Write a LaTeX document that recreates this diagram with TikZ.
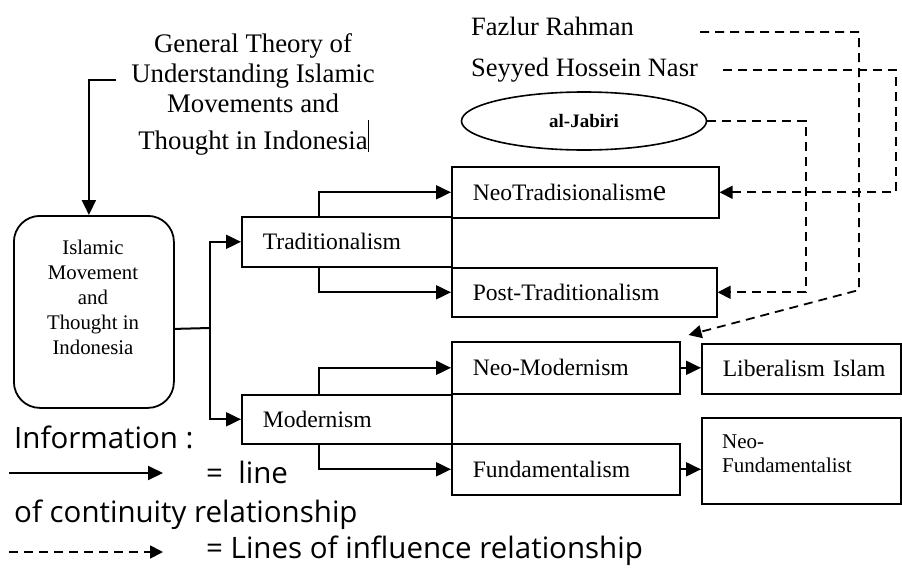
\documentclass[tikz,border=0pt]{standalone}
\usepackage{fontspec}
\setmainfont{Liberation Serif}
\newfontfamily\legendfont{Open Sans}
\usetikzlibrary{arrows.meta,shapes.geometric}
\begin{document}
\begin{tikzpicture}[x=1pt,y=-1pt,
  lbox/.style={draw,line width=1.6pt,anchor=north west,inner xsep=21pt,inner ysep=0pt,align=left,
    font=\fontsize{23.6}{28}\selectfont},
  arr/.style={line width=2pt,-{Triangle[length=15pt,width=14pt]}},
  conn/.style={line width=2pt},
  dsh/.style={line width=1.8pt,dash pattern=on 9pt off 6pt,-{Triangle[length=13pt,width=13pt]}},
  serif26/.style={font=\fontsize{26.5}{30}\selectfont,inner sep=0pt},
  legend/.style={font=\legendfont\fontsize{29.5}{34}\selectfont,inner sep=0pt,anchor=base west}]
\useasboundingbox (0,0) rectangle (902,568);
% title
\node[serif26,font=\fontsize{26.8}{30}\selectfont,align=center,anchor=north] (title) at (253,33)
  {General Theory of\\Understanding Islamic\\Movements and\\[7pt]Thought in Indonesia};
\draw[line width=0.8pt] (368,120) -- (368,152);
% main box
\node[draw,line width=1.8pt,rounded corners=26pt,anchor=north west,minimum width=160pt,minimum height=192pt,inner sep=0pt] (main) at (13,215) {};
\node[align=center,inner sep=0pt,font=\fontsize{20.8}{25}\selectfont] (maintxt) at (93,297)
  {Islamic\\Movement\\and\\Thought in\\Indonesia};
% boxes
\node[lbox,text width=168pt,minimum height=50pt] (trad) at (241,216) {Traditionalism};
\node[lbox,text width=225pt,minimum height=51pt] (neotrad) at (451,166) {NeoTradisionalism{\fontsize{30}{30}\selectfont e}};
\node[lbox,text width=223pt,minimum height=49pt] (post) at (451,267) {Post-Traditionalism};
\node[lbox,text width=168pt,minimum height=49pt] (mod) at (241,394) {Modernism};
\node[lbox,text width=186pt,minimum height=52pt] (neomod) at (451,341) {Neo-Modernism};
\node[lbox,text width=186pt,minimum height=51pt] (fund) at (451,443) {Fundamentalism};
\node[lbox,text width=157pt,minimum height=50pt] (lib) at (701,343) {\mbox{Liberalism Islam}};
\node[draw,line width=1.6pt,anchor=north west,minimum width=199pt,minimum height=86pt,inner sep=0pt] (nfund) at (701,417) {};
\node[anchor=base west,align=left,inner sep=0pt,font=\fontsize{21}{24}\selectfont] (nfundtxt) at (722,472) {Neo-\\Fundamentalist};
% thinkers
\node[serif26,anchor=base west] (faz) at (471,35) {Fazlur Rahman};
\node[serif26,anchor=base west] (nasr) at (471,76) {Seyyed Hossein Nasr};
\node[draw,ellipse,line width=1.6pt,minimum width=245pt,minimum height=58pt,inner sep=0pt,
  font=\bfseries\fontsize{19}{22}\selectfont] (jab) at (584,121) {al-Jabiri};
% solid connectors
\coordinate (tstart) at (116,80);
\draw[arr] (tstart) -| ([xshift=-5pt]main.north);
\coordinate (br) at (210,328);
\draw[conn] ([yshift=-17pt]main.east) -- (br);
\draw[arr] (br) |- (trad.west);
\draw[arr] (br) |- (mod.west);
\draw[arr] ([xshift=-28pt]trad.north) |- (neotrad.west);
\draw[arr] ([xshift=-28pt]trad.south) |- (post.west);
\draw[arr] ([xshift=-28pt]mod.north) |- (neomod.west);
\draw[arr] ([xshift=-28pt]mod.south) |- (fund.west);
\draw[arr] (neomod.east) -- (neomod.east -| lib.west);
\draw[arr] (fund.east) -- (fund.east -| nfund.west);
% dashed connectors
\coordinate (fazS) at (700,32);
\coordinate (fazK) at (859,290);
\draw[dsh] (fazS) -| (fazK) -- ([xshift=8pt,yshift=6pt]neomod.north east);
\coordinate (nasrS) at (723,70);
\coordinate (nasrK) at (896,0);
\draw[dsh] (nasrS) -| (nasrK |- neotrad.east) -- (neotrad.east);
\coordinate (jabK) at (806,0);
\draw[dsh] (jab.east) -| (jabK |- post.east) -- (post.east);
% legend
\node[legend] (info) at (14,448) {Information :};
\coordinate (l1a) at (9,473);
\coordinate (l1b) at (163,473);
\draw[arr] (l1a) -- (l1b);
\node[legend] (eqline) at (206,483) {=~~line};
\node[legend] (cont) at (14,522) {of continuity relationship};
\coordinate (l2a) at (9,552);
\coordinate (l2b) at (163,552);
\draw[dsh] (l2a) -- (l2b);
\node[legend] (eqinf) at (206,558) {= Lines of influence relationship};
\end{tikzpicture}
\end{document}
